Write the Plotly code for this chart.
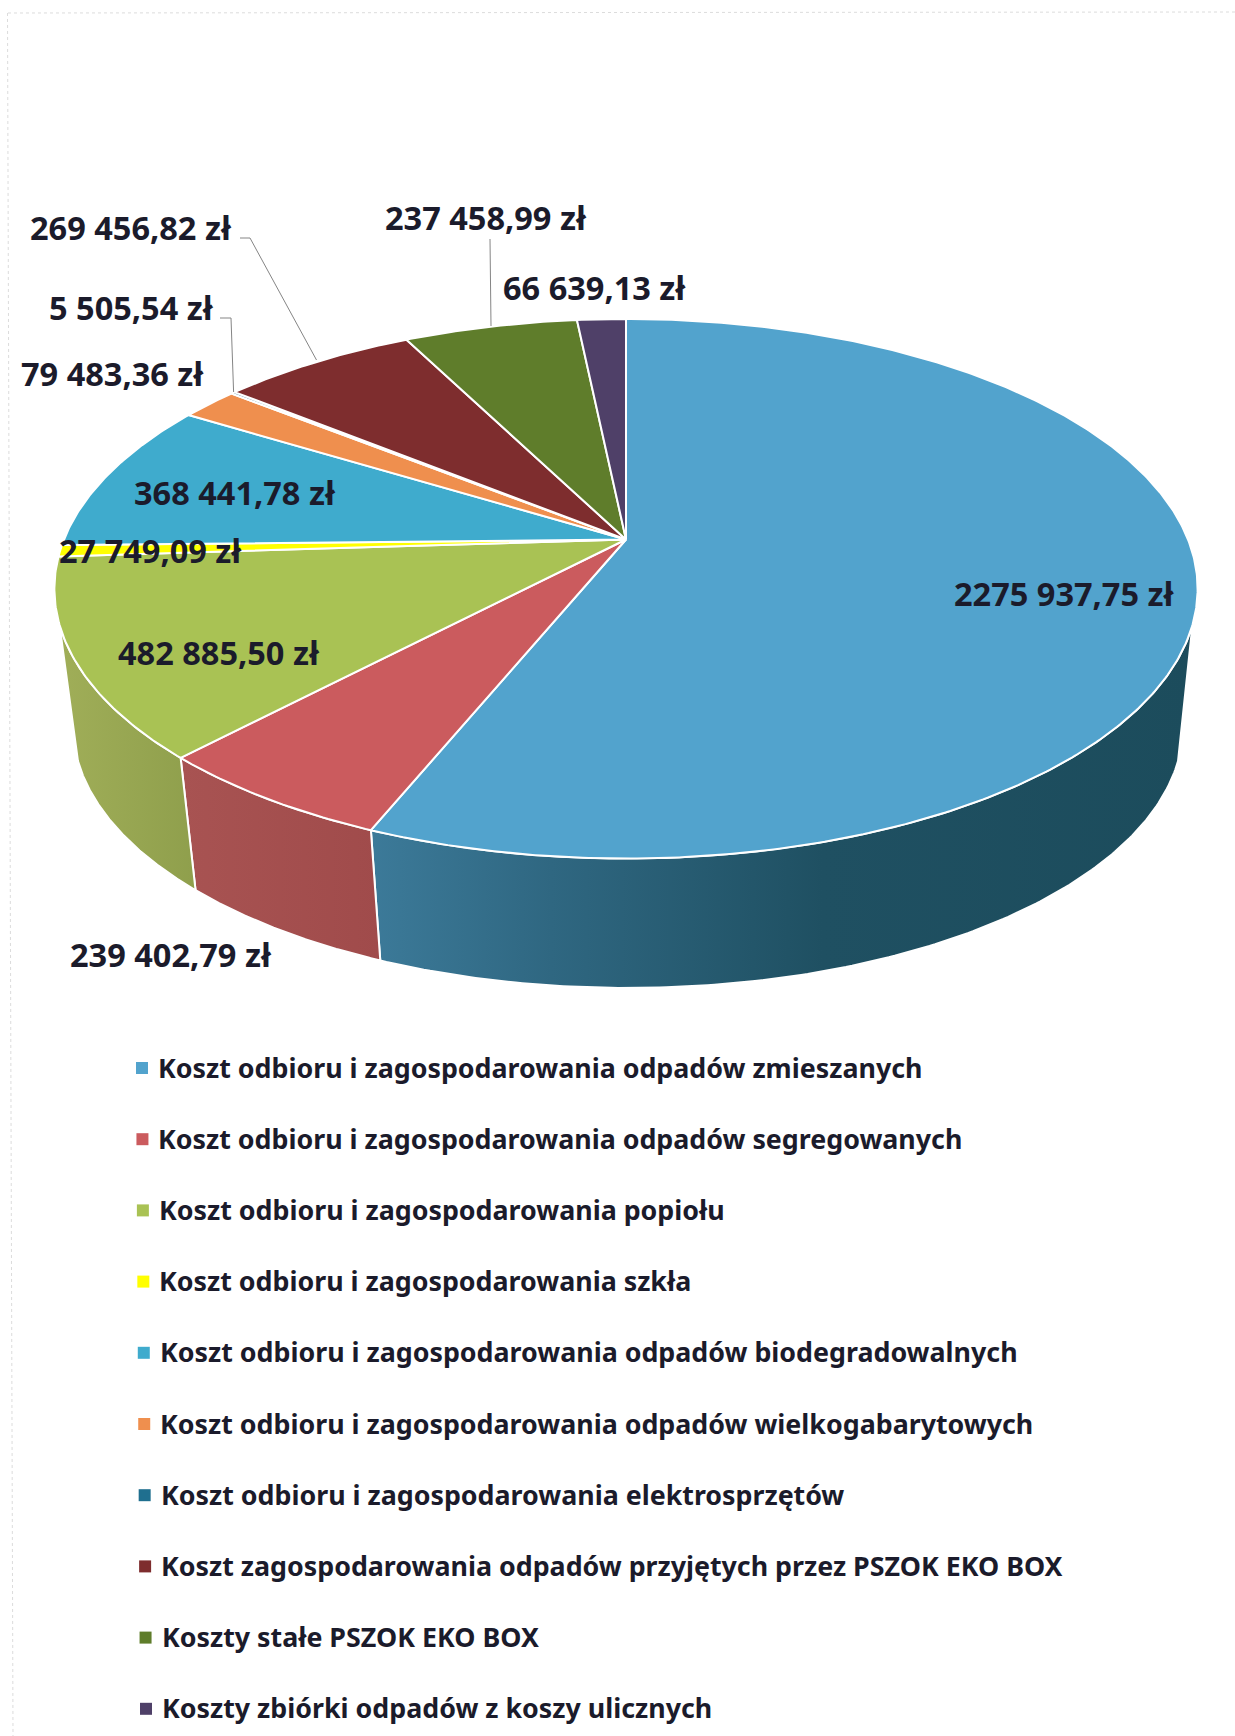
import numpy as np
import plotly.graph_objects as go

W, H = 1235, 1736

categories = [
    "Koszt odbioru i zagospodarowania odpadów zmieszanych",
    "Koszt odbioru i zagospodarowania odpadów segregowanych",
    "Koszt odbioru i zagospodarowania popiołu",
    "Koszt odbioru i zagospodarowania szkła",
    "Koszt odbioru i zagospodarowania odpadów biodegradowalnych",
    "Koszt odbioru i zagospodarowania odpadów wielkogabarytowych",
    "Koszt odbioru i zagospodarowania elektrosprzętów",
    "Koszt zagospodarowania odpadów przyjętych przez PSZOK EKO BOX",
    "Koszty stałe PSZOK EKO BOX",
    "Koszty zbiórki odpadów z koszy ulicznych",
]
values = [2275937.75, 239402.79, 482885.50, 27749.09, 368441.78,
          79483.36, 5505.54, 269456.82, 237458.99, 66639.13]
value_labels = ["2275 937,75 zł", "239 402,79 zł", "482 885,50 zł", "27 749,09 zł",
                "368 441,78 zł", "79 483,36 zł", "5 505,54 zł", "269 456,82 zł",
                "237 458,99 zł", "66 639,13 zł"]
colors = ["#52a3cd", "#cb5b5e", "#a9c254", "#ffff00", "#3fabcd",
          "#ef8f4e", "#1f6f8f", "#7e2d2e", "#5f7d2b", "#4f4068"]

# layout constants (page pixels)
label_left = [952, 68, 116, 57, 132, 19, 47, 28, 383, 501]
label_mid = [593, 954, 652, 550, 492, 373, 307, 227, 217, 287]
LABEL_SIZE = 32.5
LEGEND_SIZE = 26.8
FONT = "Noto Sans"
TEXT = "#1b1b2b"

# perspective projection of the pie disc
CX, CY = 626.0, 539.5
K, B, A = 0.1826, 260.8, 562.0
ELL_CY = 588.75
WALL_SCALE, WALL_CY, WALL_DX = 0.971, 726.0, 2.0


def top_xy(theta_deg):
    t = np.radians(theta_deg)
    d = 1 + K * np.cos(t)
    return CX + A * np.sin(t) / d, CY - B * np.cos(t) / d


def bottom_xy(theta_deg):
    x, y = top_xy(theta_deg)
    return CX + WALL_DX + WALL_SCALE * (x - CX), WALL_CY + WALL_SCALE * (y - ELL_CY)


fractions = np.array(values) / sum(values) * 360
ends = np.cumsum(fractions)
starts = ends - fractions

fig = go.Figure()

# page edge left by the scanner
for x0, y0, x1, y1 in [(8, 13, W, 12), (7.5, 13, 13, H)]:
    fig.add_trace(go.Scatter(x=[x0, x1], y=[y0, y1], mode="lines", hoverinfo="skip",
                             line=dict(color="#dcdcdc", width=1, dash="dot")))

# side wall: only the part facing the viewer
WALL_FROM, WALL_TO = 108.0, 252.0
wall_grad = {0: ("#1c4c5c", "#3c7a99"), 1: ("#a04b4b", "#a85352"), 2: ("#8f9f4c", "#a0ae58")}
for i, (c_right, c_left) in wall_grad.items():
    a0, a1 = max(starts[i], WALL_FROM), min(ends[i], WALL_TO)
    th = np.linspace(a0, a1, 160)
    xt, yt = top_xy(th)
    xb, yb = bottom_xy(th[::-1])
    stops = [[0, c_left], [1, c_right]]
    if i == 0:
        stops = [[0, c_left], [0.22, "#2f6781"], [0.55, "#1f5062"], [1, c_right]]
    fig.add_trace(go.Scatter(
        x=np.r_[xt, xb, xt[0]], y=np.r_[yt, yb, yt[0]], mode="lines", fill="toself",
        fillgradient=dict(type="horizontal", colorscale=stops),
        line=dict(color="#ffffff", width=2), hoverinfo="skip"))

# top face
for i in range(len(values)):
    th = np.linspace(starts[i], ends[i], max(3, int(fractions[i] * 2)))
    x, y = top_xy(th)
    fig.add_trace(go.Scatter(
        x=np.r_[CX, x, CX], y=np.r_[CY, y, CY], mode="lines", fill="toself",
        fillcolor=colors[i], line=dict(color="#ffffff", width=2),
        name=categories[i], text=value_labels[i], hoverinfo="name+text"))

# leader lines
for xs, ys in [([240, 250, 316.5], [238, 238, 360]),
               ([220, 231, 233.6], [318, 318, 392]),
               ([490, 491], [239, 326])]:
    fig.add_trace(go.Scatter(x=xs, y=ys, mode="lines", hoverinfo="skip",
                             line=dict(color="#858585", width=1)))

# legend swatches
leg_y = [1068 + 71.2 * n for n in range(len(categories))]
leg_x = [142 + 4.0 * n / 9 for n in range(len(categories))]
fig.add_trace(go.Scatter(x=leg_x, y=leg_y, mode="markers", hoverinfo="skip",
                         marker=dict(symbol="square", size=12, color=colors,
                                     line=dict(width=0))))

annotations = []
for i, t in enumerate(value_labels):
    annotations.append(dict(x=label_left[i], y=label_mid[i], text=t, showarrow=False,
                            xanchor="left", yanchor="middle", xref="x", yref="y",
                            font=dict(family=FONT, size=LABEL_SIZE, color=TEXT, weight="bold")))
for i, t in enumerate(categories):
    annotations.append(dict(x=leg_x[i] + 14, y=leg_y[i] - 1, text=t, showarrow=False,
                            xanchor="left", yanchor="middle", xref="x", yref="y",
                            font=dict(family=FONT, size=LEGEND_SIZE, color=TEXT, weight="bold")))

fig.update_layout(
    width=W, height=H, margin=dict(l=0, r=0, t=0, b=0), showlegend=False,
    paper_bgcolor="#ffffff", plot_bgcolor="#ffffff", annotations=annotations,
    xaxis=dict(range=[0, W], visible=False, fixedrange=True),
    yaxis=dict(range=[H, 0], visible=False, fixedrange=True),
)
fig.write_html("out.html", config={"displayModeBar": False},
               post_script="document.body.style.margin='0';document.body.style.overflow='hidden';")
